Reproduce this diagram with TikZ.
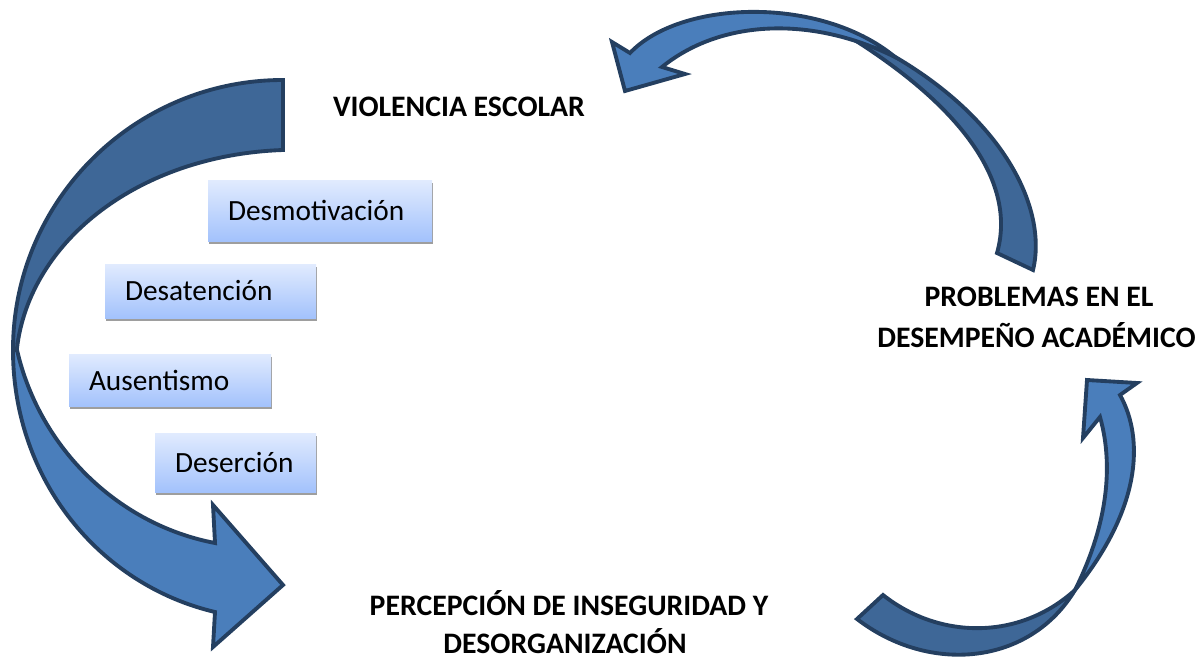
\documentclass[tikz,border=0pt]{standalone}
\usepackage{fontspec}
\setmainfont{Carlito}
\usetikzlibrary{shadows}
\definecolor{arrfront}{HTML}{4A7EBB}
\definecolor{arrback}{HTML}{3E6797}
\definecolor{arrline}{HTML}{243F60}
\definecolor{boxtop}{HTML}{E1EBFE}
\definecolor{boxbot}{HTML}{A3C2FC}
\begin{document}
\begin{tikzpicture}[x=0.75pt,y=-0.75pt,
  front/.style={fill=arrfront,draw=arrline,line width=2.9pt},
  back/.style={fill=arrback,draw=arrline,line width=2.9pt},
  itembox/.style={draw=none,top color=boxtop,bottom color=boxbot,
    drop shadow={shadow xshift=0.8pt,shadow yshift=-2.2pt,fill=black!38,opacity=1},
    inner xsep=15pt,inner ysep=0pt,align=left,
    font=\fontsize{22pt}{26pt}\selectfont},
  title/.style={font=\bfseries\fontsize{22.3pt}{26pt}\selectfont,inner sep=0pt,anchor=base}]
\useasboundingbox (0,0) rectangle (1199,660);
% left arrow
\draw[back] (283,80) .. controls (134,80) and (13,201) .. (13,350) -- (17,348)
  .. controls (30,240) and (140,155) .. (283,150) -- cycle;
\draw[front] (13,350) .. controls (13,480) and (100,585) .. (215,612) -- (213,647)
  -- (283,585) -- (213,505) -- (215,543) .. controls (120,525) and (40,450) .. (17,350) -- cycle;
% top right arrow
\draw[back] (1033,270) .. controls (1050,200) and (990,90) .. (830,25)
  .. controls (975,110) and (1015,190) .. (997,253) -- cycle;
\draw[front] (662,67) -- (685,74) -- (625,91) -- (612,42) -- (630,53)
  .. controls (680,0) and (820,-5) .. (895,57) .. controls (810,15) and (720,20) .. (662,67) -- cycle;
% bottom right arrow
\draw[back] (857,619) .. controls (930,675) and (1030,665) .. (1075,590)
  .. controls (1020,640) and (940,640) .. (883,595) -- cycle;
\draw[front] (1075,590) .. controls (1140,510) and (1145,440) .. (1120,395) -- (1137,383)
  -- (1087,380) -- (1083,438) -- (1100,417) .. controls (1115,470) and (1105,530) .. (1075,590) -- cycle;
% boxes
\node[itembox,minimum height=45.75pt,text width=138pt] (desmot) at (320,210.5) {\mbox{Desmotivación}};
\node[itembox,minimum height=40.5pt,text width=128.25pt] (desat) at (210.5,291) {\mbox{Desatención}};
\node[itembox,minimum height=39pt,text width=121.5pt] (ausent) at (170,380) {\mbox{Ausentismo}};
\node[itembox,minimum height=44.25pt,text width=90.75pt] (deser) at (235.5,462.5) {\mbox{Deserción}};
% titles
\node[title] (violencia) at (459,117) {VIOLENCIA ESCOLAR};
\node[title] (problemas1) at (1039,306) {PROBLEMAS EN EL};
\node[title] (problemas2) at (1036.5,347) {DESEMPEÑO ACADÉMICO};
\node[title] (percepcion1) at (569,615) {PERCEPCIÓN DE INSEGURIDAD Y};
\node[title] (percepcion2) at (565,653) {DESORGANIZACIÓN};
\end{tikzpicture}
\end{document}
